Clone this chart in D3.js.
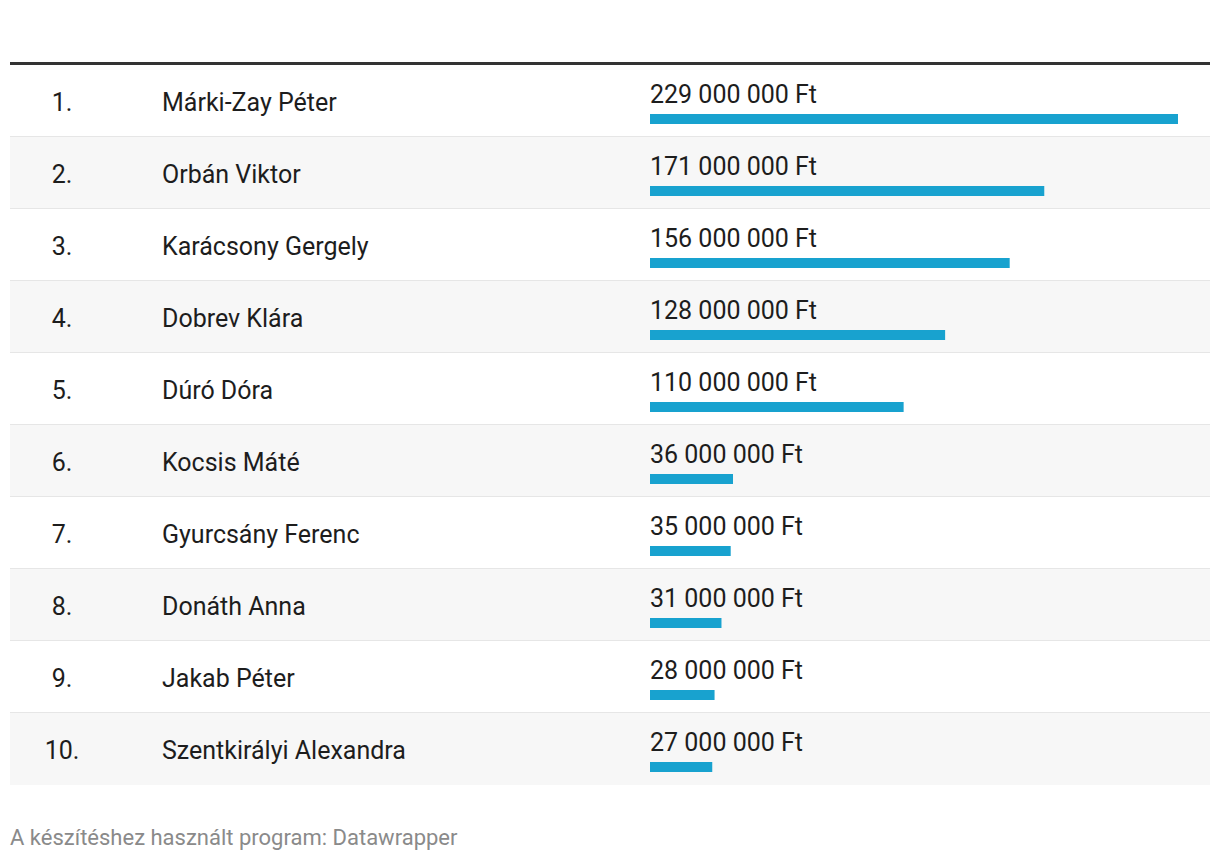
<!DOCTYPE html>
<html>
<head>
<meta charset="utf-8">
<script src="https://cdn.jsdelivr.net/npm/d3@7"></script>
<style>
  html, body { margin: 0; padding: 0; background: #fff; }
  svg { display: block; }
  text { font-family: Roboto, "Noto Sans", sans-serif; }
</style>
</head>
<body>
<svg id="chart" width="1220" height="860"></svg>
<script>
const ranks = ["1.", "2.", "3.", "4.", "5.", "6.", "7.", "8.", "9.", "10."];
const names = ["Márki-Zay Péter", "Orbán Viktor", "Karácsony Gergely", "Dobrev Klára", "Dúró Dóra",
               "Kocsis Máté", "Gyurcsány Ferenc", "Donáth Anna", "Jakab Péter", "Szentkirályi Alexandra"];
const values = [229000000, 171000000, 156000000, 128000000, 110000000,
                36000000, 35000000, 31000000, 28000000, 27000000];
const footer = "A készítéshez használt program: Datawrapper";

const rows = ranks.map((r, i) => ({ rank: r, name: names[i], value: values[i], i }));

const svg = d3.select("#chart");
const leftX = 10, rightX = 1210;
const tableTop = 65, rowH = 72;

const y = d3.scaleBand().domain(d3.range(rows.length)).range([tableTop, tableTop + rowH * rows.length]).padding(0);
const x = d3.scaleLinear().domain([0, d3.max(values)]).range([650, 1178]);

const fmt = v => d3.format(",")(v).replace(/,/g, " ") + " Ft";

const g = svg.append("g");

const row = g.selectAll("g.row").data(rows).join("g").attr("class", "row")
  .attr("transform", d => `translate(0,${y(d.i)})`);

row.append("rect")
  .attr("x", leftX).attr("y", 0).attr("width", rightX - leftX).attr("height", y.bandwidth())
  .attr("fill", d => d.i % 2 === 1 ? "#f7f7f7" : "#ffffff");

row.filter(d => d.i < rows.length - 1).append("rect")
  .attr("x", leftX).attr("y", y.bandwidth() - 1).attr("width", rightX - leftX).attr("height", 2)
  .attr("fill", "#e6e6e6");

row.append("text")
  .attr("x", 62).attr("y", rowH / 2 + 9.5)
  .attr("text-anchor", "middle")
  .attr("font-size", 25).attr("fill", "#1d1d1d")
  .text(d => d.rank);

row.append("text")
  .attr("x", 162).attr("y", rowH / 2 + 9.5)
  .attr("font-size", 25).attr("fill", "#1d1d1d")
  .text(d => d.name);

row.append("text")
  .attr("x", 650).attr("y", 37.7)
  .attr("font-size", 25).attr("fill", "#1d1d1d")
  .text(d => fmt(d.value));

row.append("rect")
  .attr("x", x(0)).attr("y", 49).attr("height", 10)
  .attr("width", d => x(d.value) - x(0))
  .attr("fill", "#18a2cf");

svg.append("rect").attr("x", leftX).attr("y", 62).attr("width", rightX - leftX).attr("height", 3).attr("fill", "#333333");

svg.append("text")
  .attr("x", 10).attr("y", 845)
  .attr("font-size", 22).attr("fill", "#8a8a8a")
  .text(footer);
</script>
</body>
</html>
